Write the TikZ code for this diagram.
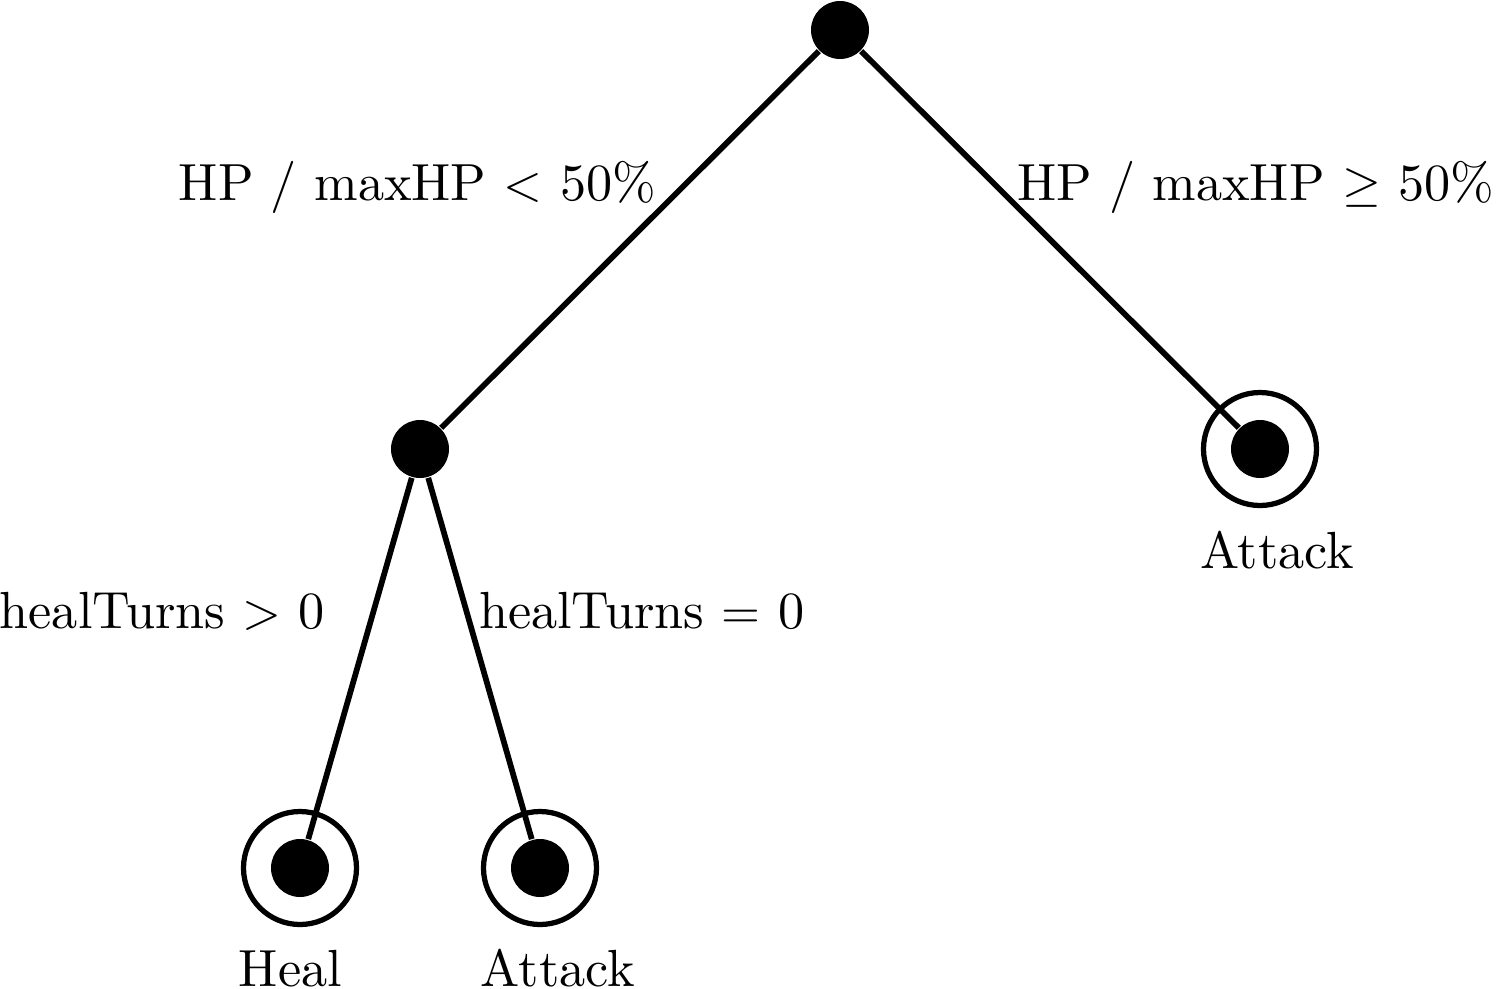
\documentclass[tikz,border=0pt]{standalone}
\begin{document}
\begin{tikzpicture}[x=0.2pt,y=-0.2pt,
  dec/.style={circle,fill=black,inner sep=0pt,minimum size=11.6pt},
  ring/.style={circle,draw=black,line width=1.05pt,inner sep=0pt,minimum size=22.6pt},
  edge/.style={line width=1.15pt},
  lbl/.style={inner sep=0pt,font=\fontsize{10.45}{12.5}\selectfont}]
\useasboundingbox (0,0) rectangle (1497,989);
\node[dec] (root) at (840,30) {};
\node[dec] (mid) at (420,449) {};
\node[ring] (rring) at (1260,449) {};
\node[dec] (rleaf) at (1260,449) {};
\node[ring] (hring) at (300,868) {};
\node[dec] (hleaf) at (300,868) {};
\node[ring] (aring) at (540,868) {};
\node[dec] (aleaf) at (540,868) {};
\draw[edge] (root) -- (mid);
\draw[edge] (root) -- (rleaf);
\draw[edge] (mid) -- (hleaf);
\draw[edge] (mid) -- (aleaf);
\node[lbl,anchor=base east] (l1) at (657,200) {HP / maxHP $<$ 50\%};
\node[lbl,anchor=base west] (l2) at (1016,200) {HP / maxHP $\geq$ 50\%};
\node[lbl,anchor=base east] (l3) at (326,628) {healTurns $>$ 0};
\node[lbl,anchor=base west] (l4) at (478,628) {healTurns $=$ 0};
\node[lbl,anchor=base west] (t1) at (1199,568) {Attack};
\node[lbl,anchor=base west] (t2) at (238,986) {Heal};
\node[lbl,anchor=base west] (t3) at (480,986) {Attack};
\end{tikzpicture}
\end{document}
